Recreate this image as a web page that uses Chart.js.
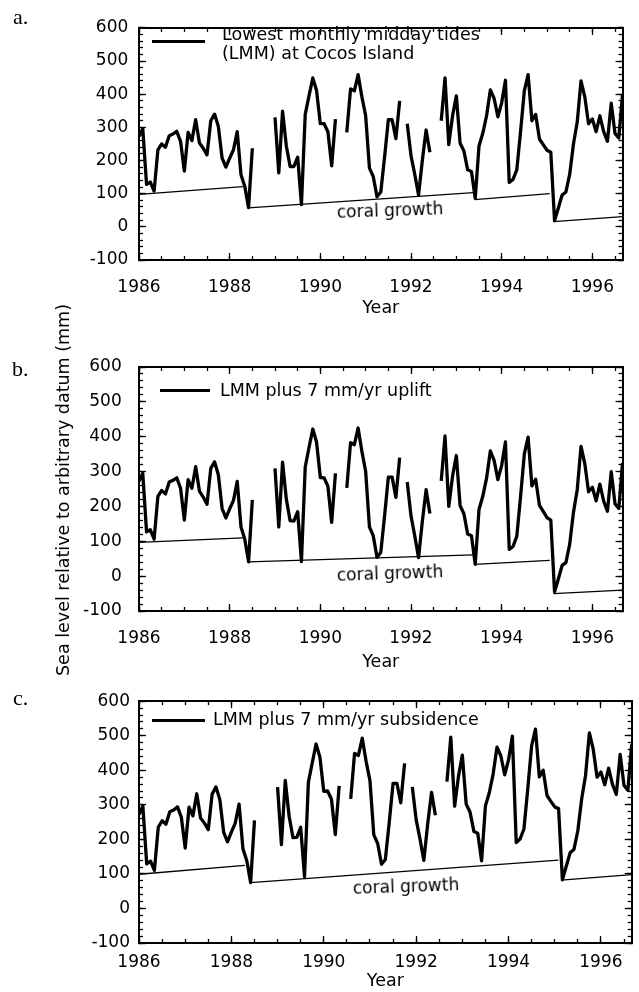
<!DOCTYPE html>
<html>
<head>
<meta charset="utf-8">
<script src="https://cdn.jsdelivr.net/npm/chart.js@4.4.1/dist/chart.umd.min.js"></script>
<style>
  body { margin: 0; background: #fff; }
  #page { position: relative; width: 639px; height: 992px; overflow: hidden; background: #fff;
          font-family: "DejaVu Sans", sans-serif; color: #000; }
  canvas { position: absolute; left: 0; }
  .legend { position: absolute; white-space: nowrap; font-size: 17.5px; line-height: 18.7px; }
  .swatch { position: absolute; height: 3px; background: #000; }
  .tag { position: absolute; font-family: "Liberation Serif", "DejaVu Serif", serif; font-size: 22px; line-height: 22px; }
  .note { position: absolute; white-space: nowrap; font-size: 17px; transform: translate(-50%, -50%) rotate(-2deg); }
  #ytitle { position: absolute; left: 63px; top: 490px; white-space: nowrap; font-size: 17.5px;
            transform: translate(-50%, -50%) rotate(-90deg); }
</style>
</head>
<body>
<div id="page">
  <canvas id="chartA" width="639" height="330" style="top:0px"></canvas>
  <canvas id="chartB" width="639" height="345" style="top:330px"></canvas>
  <canvas id="chartC" width="639" height="317" style="top:675px"></canvas>

  <div class="tag" style="left:13px; top:6px">a.</div>
  <div class="tag" style="left:12px; top:358px">b.</div>
  <div class="tag" style="left:13px; top:687px">c.</div>

  <div class="swatch" style="left:152px; top:40px; width:53px"></div>
  <div class="legend" style="left:222px; top:25px">Lowest monthly midday tides<br>(LMM) at Cocos Island</div>
  <div class="swatch" style="left:160px; top:389px; width:50px"></div>
  <div class="legend" style="left:220px; top:381px">LMM plus 7 mm/yr uplift</div>
  <div class="swatch" style="left:152px; top:719px; width:53px"></div>
  <div class="legend" style="left:213px; top:710px">LMM plus 7 mm/yr subsidence</div>

  <div class="note" style="left:390px; top:210px">coral growth</div>
  <div class="note" style="left:390px; top:573px">coral growth</div>
  <div class="note" style="left:406px; top:886px">coral growth</div>

  <div id="ytitle">Sea level relative to arbitrary datum (mm)</div>
</div>
<script>
// monthly values, Jan 1986 .. Sep 1996, null = no record
const startYear = 1986;
const endYear = 1996 + 8 / 12;

const lmm = [
  272, 296, 128, 135, 108, 232, 250, 240, 275, 280, 288, 258,
  168, 285, 260, 323, 253, 237, 217, 320, 340, 303, 207, 180,
  207, 232, 287, 157, 122, 58, 237, null, null, null, null, null,
  330, 163, 349, 244, 182, 182, 210, 67, 339, 395, 449, 411,
  311, 311, 287, 184, 325, null, null, 285, 416, 410, 459, 392,
  335, 177, 152, 91, 105, 210, 323, 323, 266, 380, null, 311,
  215, 158, 96, 201, 292, 225, null, null, 320, 449, 248, 335,
  395, 252, 229, 172, 167, 86, 244, 282, 335, 413, 387, 332,
  374, 442, 134, 143, 172, 287, 411, 459, 320, 339, 265, 248,
  231, 225, 19, 57, 96, 105, 158, 250, 316, 440, 392, 311,
  325, 287, 335, 287, 258, 373, 282, 268, 400
];

const uplift = [
  272, 295, 127, 133, 106, 229, 246, 236, 270, 275, 282, 252,
  161, 277, 252, 314, 244, 227, 206, 309, 328, 291, 194, 167,
  193, 217, 272, 141, 106, 41, 219, null, null, null, null, null,
  309, 141, 327, 221, 159, 158, 185, 42, 313, 369, 422, 384,
  283, 282, 258, 154, 295, null, null, 253, 383, 377, 425, 358,
  300, 141, 116, 54, 68, 172, 284, 284, 226, 340, null, 270,
  173, 115, 53, 157, 248, 180, null, null, 273, 402, 200, 287,
  346, 202, 179, 121, 116, 34, 191, 229, 281, 359, 332, 277,
  318, 385, 77, 85, 114, 228, 351, 399, 259, 278, 203, 186,
  168, 161, -45, -8, 31, 39, 91, 183, 248, 372, 323, 242,
  255, 216, 264, 215, 186, 300, 208, 194, 325
];

const subsidence = [
  272, 297, 129, 137, 110, 235, 254, 244, 280, 285, 294, 264,
  175, 293, 268, 332, 262, 247, 228, 331, 352, 315, 220, 193,
  221, 247, 302, 173, 138, 75, 255, null, null, null, null, null,
  351, 185, 371, 267, 205, 206, 235, 92, 365, 421, 476, 438,
  339, 340, 316, 214, 355, null, null, 317, 449, 443, 493, 426,
  370, 213, 188, 128, 142, 248, 362, 362, 306, 420, null, 352,
  257, 201, 139, 245, 336, 270, null, null, 367, 496, 296, 383,
  444, 302, 279, 223, 218, 138, 297, 335, 389, 467, 442, 387,
  430, 499, 191, 201, 230, 346, 471, 519, 381, 400, 327, 310,
  294, 289, 83, 122, 161, 171, 225, 317, 384, 508, 461, 380,
  395, 358, 406, 359, 330, 446, 356, 342, 475
];

// coral growth lines: [fromYear, fromValue, toYear, toValue]
const coralA = [[1986.00, 98, 1988.29, 121], [1988.41, 57, 1993.38, 103], [1993.40, 82, 1995.06, 100], [1995.14, 16, 1996.667, 31]];
const coralB = [[1986.00, 97, 1988.29, 110], [1988.41, 41, 1993.38, 61], [1993.40, 34, 1995.06, 45], [1995.14, -50, 1996.667, -40]];
const coralC = [[1986.00, 99, 1988.29, 125], [1988.41, 75, 1995.08, 140], [1995.14, 82, 1996.667, 98]];

const yearLabels = [1986, 1988, 1990, 1992, 1994, 1996];
const levelLabels = [-100, 0, 100, 200, 300, 400, 500, 600];

Chart.defaults.font.family = "'DejaVu Sans', sans-serif";
Chart.defaults.font.size = 17;
Chart.defaults.color = '#000';

// one axis: minor ones have no labels and sit on the frame, ticks point inward
function axis(pos, isX, major, size, extra) {
  const a = {
    type: 'linear',
    position: pos,
    min: isX ? startYear : -100,
    max: isX ? endYear : 600,
    weight: major ? 1 : 0,
    ticks: { display: false, stepSize: isX ? 0.5 : 20, includeBounds: false, autoSkip: false, maxRotation: 0 },
    grid: { drawOnChartArea: false, tickLength: major ? -7 : -4, tickWidth: 1.3, tickColor: '#000' },
    border: { display: major, color: '#000', width: 2 },
    afterFit: s => { if (isX) s.height = size; else s.width = size; }
  };
  if (major) {
    const list = isX ? yearLabels : levelLabels;
    a.afterBuildTicks = s => { s.ticks = list.map(v => ({ value: v })); };
  }
  return Object.assign(a, extra || {});
}

function makePanel(id, series, coral, p) {
  const datasets = [{
    data: series.map((v, i) => ({ x: startYear + i / 12, y: v })),
    borderColor: '#000',
    borderWidth: 3.3,
    borderJoinStyle: 'round',
    pointRadius: 0,
    spanGaps: false,
    tension: 0
  }];
  coral.forEach(c => datasets.push({
    data: [{ x: c[0], y: c[1] }, { x: c[2], y: c[3] }],
    borderColor: '#000',
    borderWidth: 1.3,
    pointRadius: 0
  }));

  const ch = new Chart(document.getElementById(id), {
    type: 'line',
    data: { datasets },
    options: {
      responsive: false,
      animation: false,
      layout: { padding: { top: p.padTop, right: 2, bottom: 0, left: 0 } },
      plugins: { legend: { display: false }, tooltip: { enabled: false } },
      scales: {
        xMinor: axis('bottom', true, false, 0),
        xTopMinor: axis('top', true, false, 0),
        yMinor: axis('left', false, false, 0),
        yRightMinor: axis('right', false, false, 0),
        x: axis('bottom', true, true, p.axisH, {
          title: { display: true, text: 'Year', font: { size: 17.5 }, padding: { top: 0, bottom: p.titlePad } }
        }),
        xTop: axis('top', true, true, 0),
        y: axis('left', false, true, 139),
        yRight: axis('right', false, true, 0)
      }
    }
  });
  ch.options.scales.x.ticks.display = true;
  ch.options.scales.x.ticks.padding = p.xPad;
  ch.options.scales.x.ticks.callback = v => String(v);
  ch.options.scales.y.ticks.display = true;
  ch.options.scales.y.ticks.padding = p.yPad;
  ch.options.scales.y.ticks.callback = v => String(v);
  ch.update();
}

makePanel('chartA', lmm, coralA, { padTop: 16, axisH: 70, titlePad: 10.8, xPad: 24, yPad: 17.7 });
makePanel('chartB', uplift, coralB, { padTop: 37, axisH: 64, titlePad: 1.8, xPad: 24, yPad: 24.3 });
makePanel('chartC', subsidence, coralC, { padTop: 25, axisH: 49, titlePad: 0, xPad: 16, yPad: 16 });
</script>
</body>
</html>
